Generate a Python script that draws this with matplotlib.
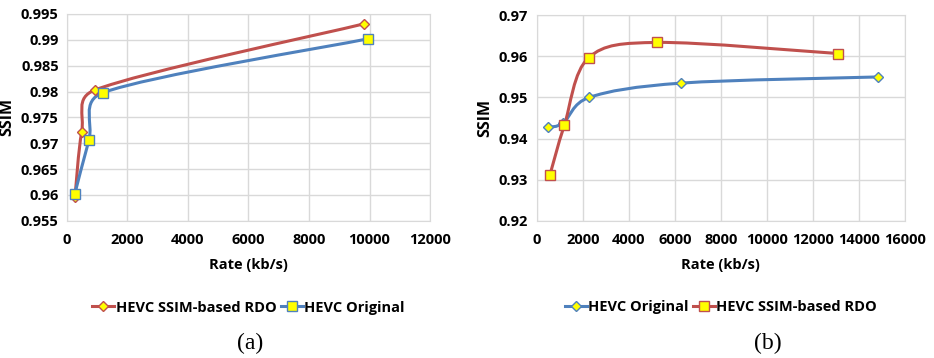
import numpy as np
import matplotlib
matplotlib.use("Agg")
import matplotlib.pyplot as plt
from matplotlib.path import Path
from matplotlib.patches import PathPatch
from matplotlib.lines import Line2D

# (a)
a_rdo_rate = [265, 485, 925, 9820]
a_rdo_ssim = [0.9596, 0.9721, 0.9803, 0.9931]
a_org_rate = [255, 727, 1200, 9950]
a_org_ssim = [0.9601, 0.9706, 0.9798, 0.9902]

# (b)
b_org_rate = [478, 1157, 2274, 6287, 14850]
b_org_ssim = [0.9427, 0.9438, 0.9500, 0.9535, 0.9550]
b_rdo_rate = [578, 1200, 2261, 5243, 13090]
b_rdo_ssim = [0.9312, 0.9432, 0.9597, 0.9634, 0.9607]

RED = "#C0504D"
BLUE = "#4F81BD"
YEL = "#FFFF00"
GRID = "#D9D9D9"
FONT = "Open Sans"
FS = 10.5


def smooth_line(ax, x, y, color):
    # excel style smoothed line: bezier through the points, worked out in
    # screen space, control arms clipped to half the segment length
    tr = ax.transData
    p = tr.transform(np.column_stack([x, y]))
    n = len(p)
    verts = [p[0]]
    codes = [Path.MOVETO]
    for i in range(n - 1):
        p0 = p[i - 1] if i > 0 else p[i]
        p1 = p[i]
        p2 = p[i + 1]
        p3 = p[i + 2] if i + 2 < n else p[i + 1]
        seg = np.hypot(*(p2 - p1))
        t1 = (p2 - p0) / 6
        t2 = (p3 - p1) / 6
        for t in (t1, t2):
            ln = np.hypot(*t)
            if ln > seg / 2:
                t *= (seg / 2) / ln
        verts += [p1 + t1, p2 - t2, p2]
        codes += [Path.CURVE4] * 3
    verts = tr.inverted().transform(np.array(verts))
    ax.add_patch(PathPatch(Path(verts, codes), fill=False, edgecolor=color,
                           lw=2.2, capstyle="round", zorder=3))


def style(ax, xmax, xstep, ylim, ystep, yfmt):
    ax.set_xlim(0, xmax)
    ax.set_ylim(*ylim)
    ax.set_xticks(np.arange(0, xmax + 1, xstep))
    ax.set_yticks(np.arange(ylim[0], ylim[1] + ystep / 2, ystep))
    ax.set_yticklabels([yfmt(v) for v in ax.get_yticks()])
    ax.grid(True, color=GRID, lw=1)
    ax.set_axisbelow(True)
    for s in ax.spines.values():
        s.set_color(GRID)
    ax.tick_params(length=0, labelsize=FS)
    ax.tick_params(axis="x", pad=9)
    ax.tick_params(axis="y", pad=6)
    for lab in ax.get_xticklabels() + ax.get_yticklabels():
        lab.set_fontfamily(FONT)
        lab.set_fontweight("bold")
    ax.set_xlabel("Rate (kb/s)", fontsize=FS, fontweight="bold",
                  fontfamily=FONT, labelpad=8)
    ax.set_ylabel("SSIM", fontsize=11.5, fontweight="bold",
                  fontfamily=FONT, labelpad=4)


def fmt(v):
    return ("%.3f" % v).rstrip("0").rstrip(".")


fig = plt.figure(figsize=(9.34, 3.58), dpi=100)

ax1 = fig.add_axes([0.0717, 0.3835, 0.3887, 0.5774])
style(ax1, 12000, 2000, (0.955, 0.995), 0.005, fmt)
smooth_line(ax1, a_rdo_rate, a_rdo_ssim, RED)
smooth_line(ax1, a_org_rate, a_org_ssim, BLUE)
ax1.plot(a_rdo_rate, a_rdo_ssim, ls="none", marker="D", ms=5.5, mfc=YEL,
         mec=RED, mew=1, zorder=4)
ax1.plot(a_org_rate, a_org_ssim, ls="none", marker="s", ms=7.5, mfc=YEL,
         mec=BLUE, mew=1, zorder=4)
h1 = [Line2D([], [], color=RED, lw=2.2, marker="D", ms=5.5, mfc=YEL, mec=RED),
      Line2D([], [], color=BLUE, lw=2.2, marker="s", ms=7.5, mfc=YEL, mec=BLUE)]
ax1.legend(h1, ["HEVC SSIM-based RDO", "HEVC Original"], loc="center",
           bbox_to_anchor=(0.5, -0.42), ncol=2, frameon=False, handlelength=1.5,
           handletextpad=0.1, columnspacing=0.3,
           prop={"family": FONT, "weight": "bold", "size": FS})

ax2 = fig.add_axes([0.5746, 0.3835, 0.3943, 0.5737])
style(ax2, 16000, 2000, (0.92, 0.97), 0.01, fmt)
smooth_line(ax2, b_org_rate, b_org_ssim, BLUE)
smooth_line(ax2, b_rdo_rate, b_rdo_ssim, RED)
ax2.plot(b_org_rate, b_org_ssim, ls="none", marker="D", ms=5.5, mfc=YEL,
         mec=BLUE, mew=1, zorder=4)
ax2.plot(b_rdo_rate, b_rdo_ssim, ls="none", marker="s", ms=7.5, mfc=YEL,
         mec=RED, mew=1, zorder=4)
h2 = [Line2D([], [], color=BLUE, lw=2.2, marker="D", ms=5.5, mfc=YEL, mec=BLUE),
      Line2D([], [], color=RED, lw=2.2, marker="s", ms=7.5, mfc=YEL, mec=RED)]
ax2.legend(h2, ["HEVC Original", "HEVC SSIM-based RDO"], loc="center",
           bbox_to_anchor=(0.5, -0.42), ncol=2, frameon=False, handlelength=1.5,
           handletextpad=0.1, columnspacing=0.3,
           prop={"family": FONT, "weight": "bold", "size": FS})

fig.text(0.268, 0.042, "(a)", ha="center", va="center",
         fontfamily="Liberation Serif", fontsize=17)
fig.text(0.822, 0.042, "(b)", ha="center", va="center",
         fontfamily="Liberation Serif", fontsize=17)

fig.savefig("out.png", dpi=100)
